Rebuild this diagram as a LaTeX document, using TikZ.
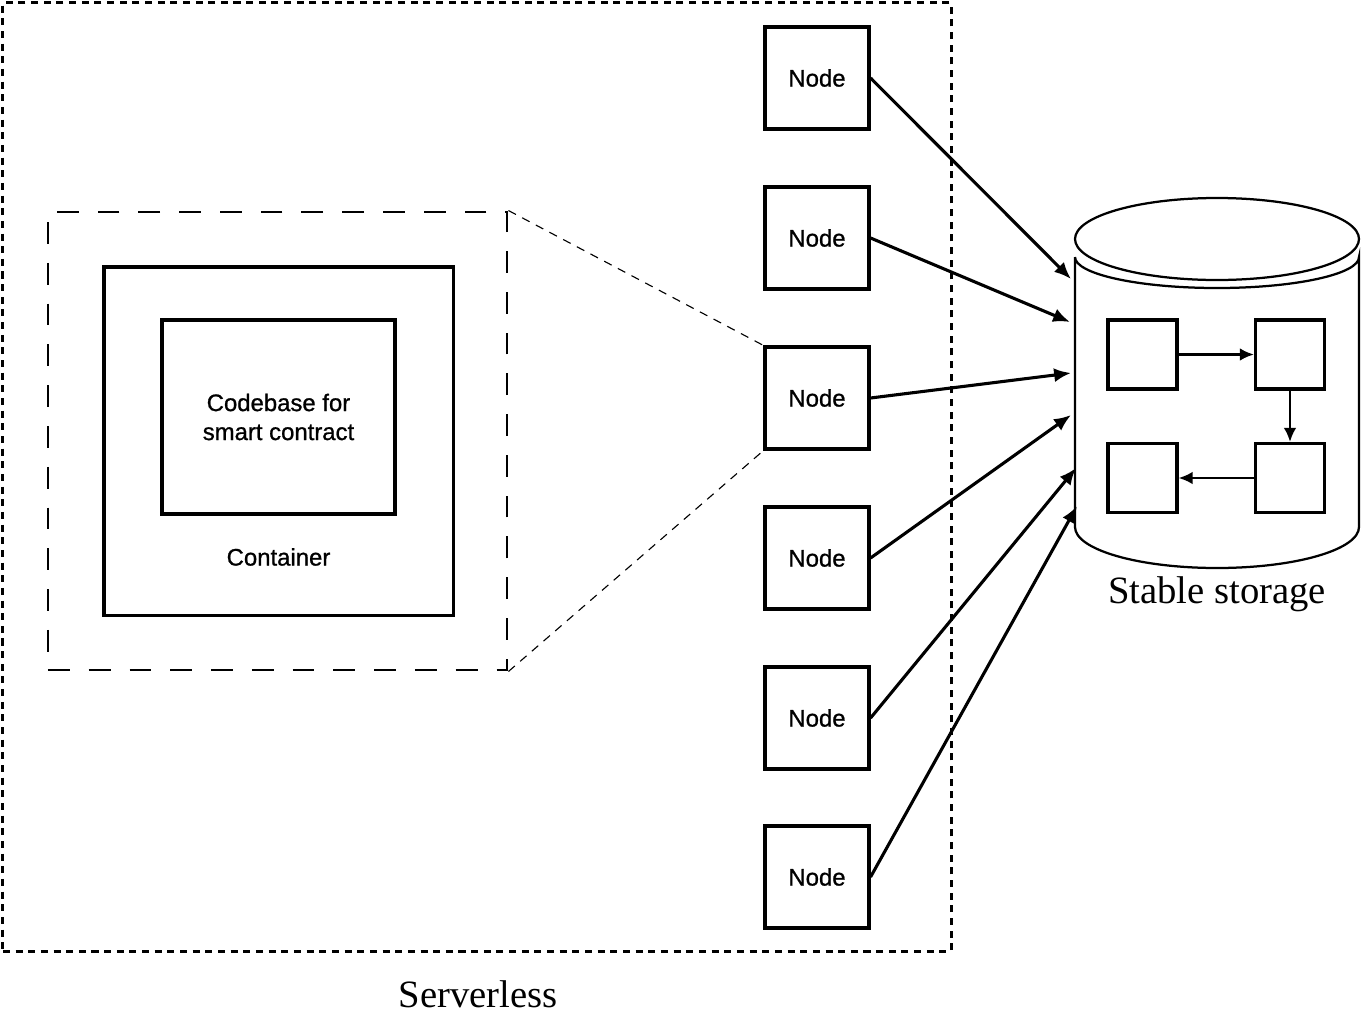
\documentclass[tikz,border=0pt]{standalone}
\usepackage{fontspec}
\setmainfont{Liberation Serif}
\setsansfont{Liberation Sans}
\newfontfamily\boxfont[FakeBold=0.9]{Liberation Sans}
\usetikzlibrary{arrows.meta}

\tikzset{
  box/.style={draw, line width=2.2pt, inner sep=0pt},
  nodebox/.style={box, minimum width=2.6cm, minimum height=2.55cm,
    font=\boxfont\fontsize{17}{20.6}\selectfont},
  cell/.style={box, minimum size=1.725cm},
  sanslabel/.style={font=\boxfont\fontsize{17}{20.6}\selectfont, align=center},
  caption/.style={font=\fontsize{27.5}{33}\selectfont},
}

\begin{document}
\begin{tikzpicture}[x=0.025cm, y=-0.025cm, >={Latex[length=12pt, width=10pt]}]
    \useasboundingbox (0, 0) rectangle (1362, 1014);
    % Serverless
    \node [draw, line width=2pt, dash pattern=on 5pt off 4pt, minimum width=23.7cm,
           minimum height=23.7cm, inner sep=0pt] (serverless) at (477, 477) {};
    \node [caption] (serverlesslabel) at (478, 994) {Serverless};
    % Container
    \node [draw, line width=2pt, dash pattern=on 15.5pt off 13.5pt, minimum width=11.475cm,
           minimum height=11.45cm, inner sep=0pt] (zoom) at (277.5, 441) {};
    \node [box, minimum width=8.725cm, minimum height=8.7cm] (container) at (278.5, 441) {};
    \node [box, sanslabel, minimum width=5.825cm, minimum height=4.85cm] (codebase)
          at (278.5, 417) {Codebase for\\smart contract};
    \node [sanslabel] (containerlabel) at (278.5, 557) {Container};
    % Nodes
    \node [nodebox] (n1) at (817, 78)  {Node};
    \node [nodebox] (n2) at (817, 238) {Node};
    \node [nodebox] (n3) at (817, 398) {Node};
    \node [nodebox] (n4) at (817, 558) {Node};
    \node [nodebox] (n5) at (817, 718) {Node};
    \node [nodebox] (n6) at (817, 877) {Node};
    \draw [line width=0.8pt, dash pattern=on 6pt off 5pt] (zoom.north east) -- (n3.north west);
    \draw [line width=0.8pt, dash pattern=on 6pt off 5pt] (zoom.south east) -- (n3.south west);
    % Stable storage
    \draw [line width=1.6pt] (1075, 257) -- (1075, 527)
          arc [start angle=180, end angle=0, x radius=142, y radius=41] -- (1359, 257)
          arc [start angle=0, end angle=180, x radius=142, y radius=31];
    \draw [line width=1.6pt] (1217, 239) ellipse [x radius=142, y radius=41];
    \node [caption] (storagelabel) at (1217, 594) {Stable storage};
    \node [cell] (s1) at (1142.5, 354.5) {};
    \node [cell] (s2) at (1290, 354.5)   {};
    \node [cell] (s3) at (1290, 478)     {};
    \node [cell] (s4) at (1142.5, 478)   {};
    \draw [-{Latex[length=10pt, width=9pt]}, line width=1.8pt] (s1) -- (s2);
    \draw [-{Latex[length=10pt, width=9pt]}, line width=1.8pt] (s2) -- (s3);
    \draw [-{Latex[length=10pt, width=9pt]}, line width=1.8pt] (s3) -- (s4);
    % Writes
    \coordinate (t1) at (1071, 279);
    \coordinate (t2) at (1070, 322);
    \coordinate (t3) at (1071, 373);
    \coordinate (t4) at (1071, 415);
    \coordinate (t5) at (1076, 468);
    \coordinate (t6) at (1077, 506);
    \draw [->, line width=2.2pt] (n1.east) -- (t1);
    \draw [->, line width=2.2pt] (n2.east) -- (t2);
    \draw [->, line width=2.2pt] (n3.east) -- (t3);
    \draw [->, line width=2.2pt] (n4.east) -- (t4);
    \draw [->, line width=2.2pt] (n5.east) -- (t5);
    \draw [->, line width=2.2pt] (n6.east) -- (t6);
\end{tikzpicture}
\end{document}
